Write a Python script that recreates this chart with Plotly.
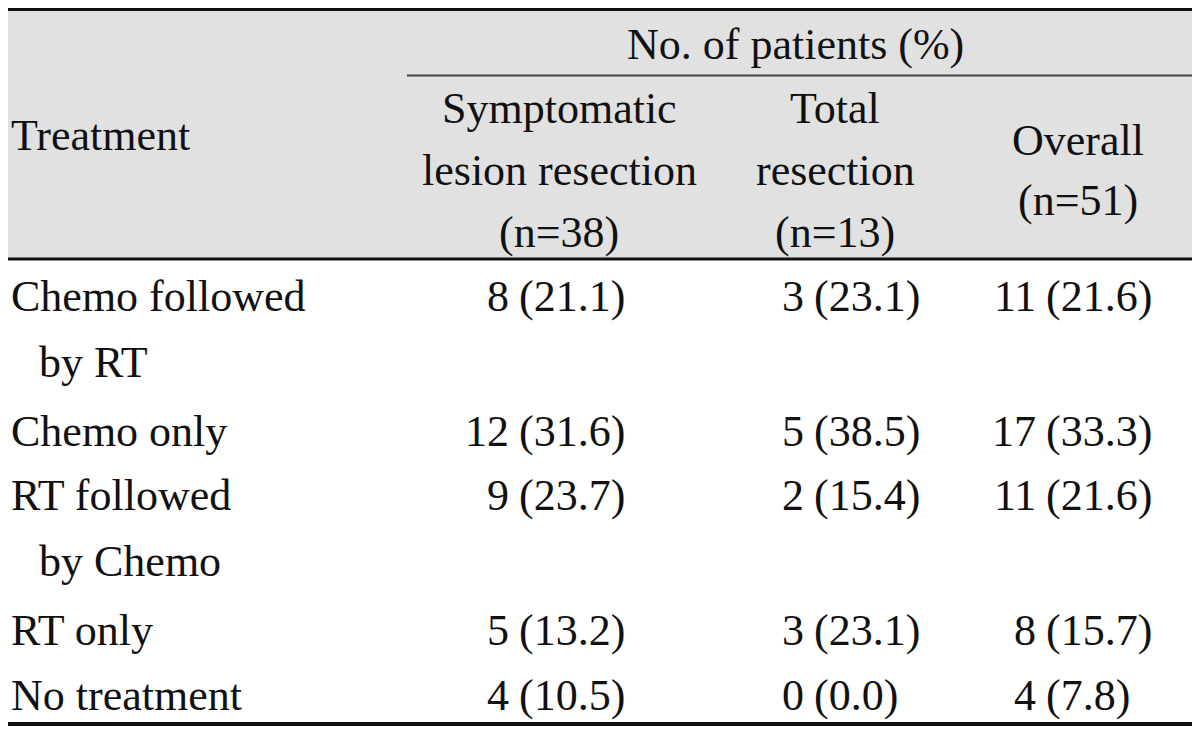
import plotly.graph_objects as go

# ---- data ----
col_group = "No. of patients (%)"
row_header = "Treatment"
col_headers = [
    ["Symptomatic", "lesion resection", "(n=38)"],
    ["Total", "resection", "(n=13)"],
    ["Overall", "(n=51)"],
]
treatments = [
    ["Chemo followed", "by RT"],
    ["Chemo only"],
    ["RT followed", "by Chemo"],
    ["RT only"],
    ["No treatment"],
]
sym_n = [8, 12, 9, 5, 4]
sym_pct = [21.1, 31.6, 23.7, 13.2, 10.5]
tot_n = [3, 5, 2, 3, 0]
tot_pct = [23.1, 38.5, 15.4, 23.1, 0.0]
all_n = [11, 17, 11, 8, 4]
all_pct = [21.6, 33.3, 21.6, 15.7, 7.8]

# ---- layout geometry (page pixels; the page body adds an 8px margin) ----
OFF = 8
W, H = 1200 - OFF, 736 - OFF
def px(v):
    return v - OFF

FONT = dict(family="Liberation Serif, Times New Roman, serif", size=44, color="#111111")
row_y = [296, 431, 495, 630, 695]
sub_dy = 66
hdr_centers = [559, 835, 1078]
paren_x = [518, 813, 1045]
line_h = 62

fig = go.Figure()
fig.add_trace(go.Scatter(x=[0, W], y=[0, H], mode="markers", marker=dict(opacity=0),
                         hoverinfo="skip", showlegend=False))

shapes = [
    dict(type="rect", x0=px(8), x1=W + 2, y0=px(10), y1=px(258), fillcolor="#e1e1e1",
         line=dict(width=0), layer="below"),
    dict(type="line", x0=px(8), x1=W + 2, y0=px(9), y1=px(9), line=dict(color="#111111", width=4)),
    dict(type="line", x0=px(407), x1=W + 2, y0=px(75.5), y1=px(75.5), line=dict(color="#444444", width=2)),
    dict(type="line", x0=px(8), x1=W + 2, y0=px(259), y1=px(259), line=dict(color="#111111", width=3)),
    dict(type="line", x0=px(8), x1=W + 2, y0=px(724), y1=px(724), line=dict(color="#111111", width=4)),
]

ann = []
def txt(x, y, s, anchor="center"):
    ann.append(dict(x=px(x), y=px(y), xref="x", yref="y", text=s, showarrow=False,
                    xanchor=anchor, yanchor="middle", font=FONT, borderpad=0))

txt(795, 44, col_group)
txt(10, 135, row_header, "left")
for i, lines in enumerate(col_headers):
    if len(lines) == 3:
        ys = [108, 108 + line_h, 108 + 2 * line_h]
    else:
        ys = [140, 200]
    for j, s in enumerate(lines):
        txt(hdr_centers[i], ys[j], s)

for r, lines in enumerate(treatments):
    txt(10, row_y[r], lines[0], "left")
    if len(lines) > 1:
        txt(38, row_y[r] + sub_dy, lines[1], "left")

for c, (ns, ps) in enumerate([(sym_n, sym_pct), (tot_n, tot_pct), (all_n, all_pct)]):
    for r in range(len(ns)):
        txt(paren_x[c] - 8, row_y[r], str(ns[r]), "right")
        txt(paren_x[c], row_y[r], f"({ps[r]:.1f})", "left")

fig.update_layout(
    width=W, height=H, margin=dict(l=0, r=0, t=0, b=0),
    paper_bgcolor="white", plot_bgcolor="white",
    xaxis=dict(range=[0, W], visible=False, fixedrange=True),
    yaxis=dict(range=[H, 0], visible=False, fixedrange=True),
    shapes=shapes, annotations=ann, showlegend=False,
)
fig.write_html("out.html")
